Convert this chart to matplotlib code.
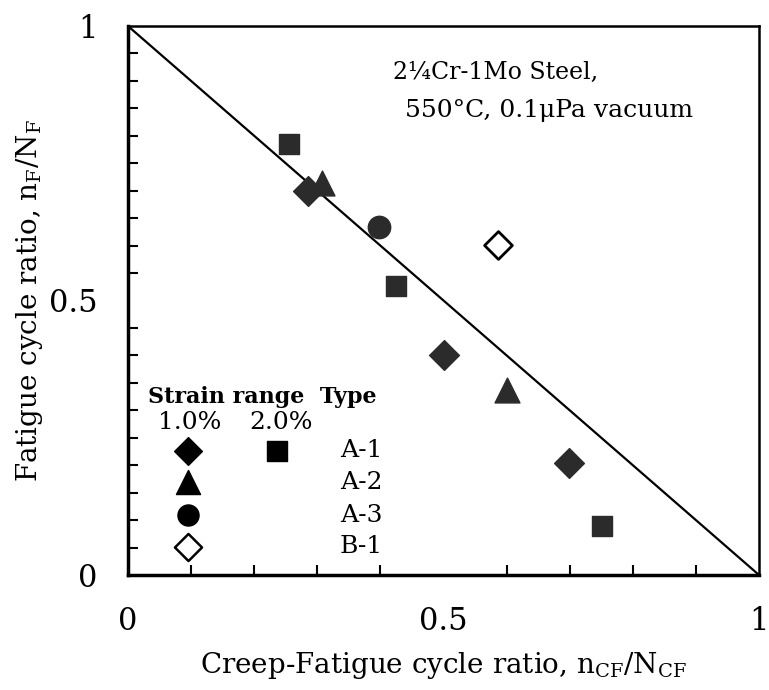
import numpy as np
import matplotlib.pyplot as plt
from matplotlib.ticker import MultipleLocator

plt.rcParams['font.family'] = ['DejaVu Serif']
plt.rcParams['mathtext.fontset'] = 'dejavuserif'

# data
a1_10_x = [0.285, 0.501, 0.699]
a1_10_y = [0.700, 0.401, 0.204]
a1_20_x = [0.255, 0.425, 0.751]
a1_20_y = [0.785, 0.526, 0.089]
a2_10_x = [0.307, 0.601]
a2_10_y = [0.714, 0.337]
a3_10_x = [0.398]
a3_10_y = [0.634]
b1_10_x = [0.586]
b1_10_y = [0.601]

types = ["A-1", "A-2", "A-3", "B-1"]
leg_markers = ["D", "^", "o", "D"]

fill = "#2b2b2b"

fig = plt.figure(figsize=(7.69, 6.90), dpi=100)
ax = fig.add_axes([0.1664, 0.1667, 0.8206, 0.7956])

ax.plot([0, 1], [1, 0], 'k-', lw=1.6, zorder=1)

ax.scatter(a1_10_x, a1_10_y, marker="D", s=230, c=fill, zorder=3)
ax.scatter(a1_20_x, a1_20_y, marker="s", s=190, c=fill, zorder=3)
ax.scatter(a2_10_x, a2_10_y, marker="^", s=320, c=fill, zorder=3)
ax.scatter(a3_10_x, a3_10_y, marker="o", s=260, c=fill, zorder=3)
ax.scatter(b1_10_x, b1_10_y, marker="D", s=200, facecolors="white",
           edgecolors="k", linewidths=2, zorder=3)

# legend drawn by hand
ax.text(0.032, 0.324, "Strain range  Type", transform=ax.transAxes,
        fontsize=16, fontweight="bold", va="center")
ax.text(0.048, 0.277, "1.0%", transform=ax.transAxes, fontsize=18, va="center")
ax.text(0.193, 0.277, "2.0%", transform=ax.transAxes, fontsize=18, va="center")
rows_y = [0.226, 0.169, 0.109, 0.051]
for i in range(len(types)):
    ry = rows_y[i]
    if i == 3:
        ax.scatter([0.095], [ry], marker="D", s=190, facecolors="white",
                   edgecolors="k", linewidths=1.8, transform=ax.transAxes)
    else:
        sz = {"D": 200, "^": 300, "o": 230}[leg_markers[i]]
        ax.scatter([0.095], [ry], marker=leg_markers[i], s=sz, c="k",
                   transform=ax.transAxes)
    ax.text(0.336, ry, types[i], transform=ax.transAxes, fontsize=18, va="center")
ax.scatter([0.236], [rows_y[0]], marker="s", s=190, c="k", transform=ax.transAxes)

ax.text(0.42, 0.916, "2\u00bcCr-1Mo Steel,", transform=ax.transAxes, fontsize=17, va="center")
ax.text(0.439, 0.847, "550\u00b0C, 0.1\u03bcPa vacuum", transform=ax.transAxes,
        fontsize=18, va="center")

ax.set_xlim(0, 1)
ax.set_ylim(0, 1)
ax.set_xticks([0, 0.5, 1])
ax.set_xticklabels(["0", "0.5", "1"])
ax.set_yticks([0, 0.5, 1])
ax.set_yticklabels(["0", "0.5", "1"])
ax.xaxis.set_minor_locator(MultipleLocator(0.1))
ax.yaxis.set_minor_locator(MultipleLocator(0.05))
ax.tick_params(which="both", direction="in", top=False, right=False,
               labelsize=22, width=1.5)
ax.tick_params(axis="x", which="major", length=0, pad=22)
ax.tick_params(axis="y", which="major", length=0, pad=22)
ax.tick_params(which="minor", length=7)
for s in ["left", "bottom"]:
    ax.spines[s].set_linewidth(2.5)
for s in ["top", "right"]:
    ax.spines[s].set_linewidth(1.8)

ax.set_xlabel("Creep-Fatigue cycle ratio, n$_{\\mathrm{CF}}$/N$_{\\mathrm{CF}}$",
              fontsize=20, labelpad=10)
ax.set_ylabel("Fatigue cycle ratio, n$_{\\mathrm{F}}$/N$_{\\mathrm{F}}$",
              fontsize=20, labelpad=3)

fig.savefig("out.png", dpi=100)
